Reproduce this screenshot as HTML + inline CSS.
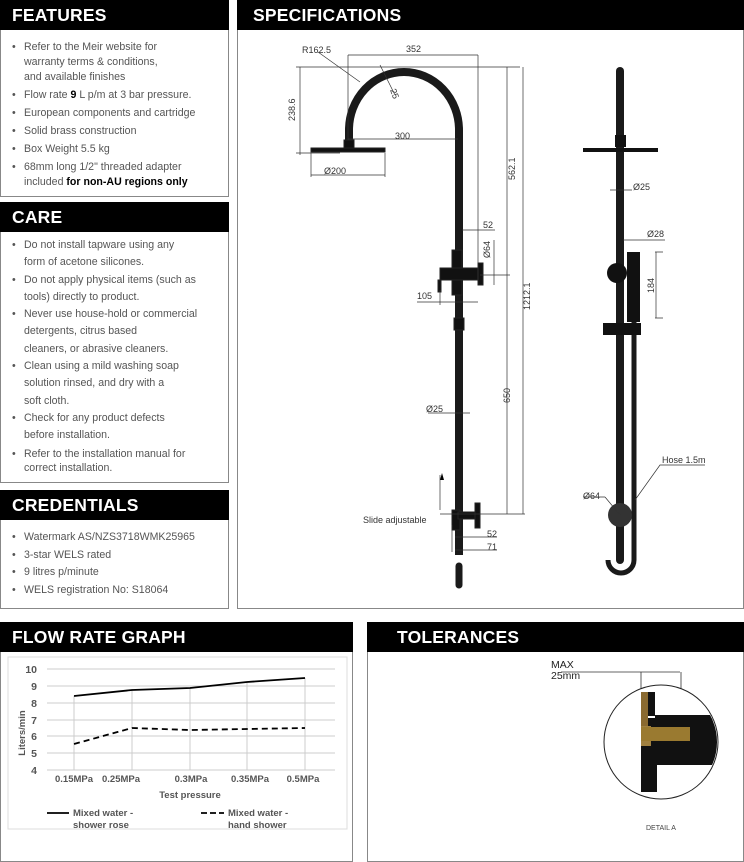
<!DOCTYPE html>
<html><head><meta charset="utf-8"><style>
*{margin:0;padding:0;box-sizing:border-box}
body{width:744px;height:856px;background:#fff;font-family:"Liberation Sans",sans-serif;position:relative;overflow:hidden;color:#555}
.box{position:absolute;border:1px solid #888}
.hd{position:absolute;background:#000;color:#fff;font-weight:900;font-size:17.5px;padding-left:12px;line-height:30px;letter-spacing:0.2px}
ul{list-style:none;position:absolute;font-size:10.6px}
li{position:relative;padding-left:12px}
li:before{content:"•";position:absolute;left:0;top:0}
b{color:#000}
</style></head><body>
<div class="box" style="left:0;top:0;width:229px;height:197px"></div>
<div class="hd" style="left:0;top:0;width:229px">FEATURES</div>
<ul style="left:12px;top:40px;width:215px;line-height:15px">
<li style="margin-bottom:3px">Refer to the Meir website for<br>warranty terms &amp; conditions,<br>and available finishes</li>
<li style="margin-bottom:3px">Flow rate <b>9</b> L p/m at 3 bar pressure.</li>
<li style="margin-bottom:3px">European components and cartridge</li>
<li style="margin-bottom:3px">Solid brass construction</li>
<li style="margin-bottom:3px">Box Weight 5.5 kg</li>
<li>68mm long 1/2" threaded adapter<br>included <b>for non-AU regions only</b></li>
</ul>
<div class="box" style="left:0;top:202px;width:229px;height:281px"></div>
<div class="hd" style="left:0;top:202px;width:229px">CARE</div>
<ul style="left:12px;top:237px;width:215px;line-height:17.3px">
<li>Do not install tapware using any<br>form of acetone silicones.</li>
<li>Do not apply physical items (such as<br>tools) directly to product.</li>
<li>Never use house-hold or commercial<br>detergents, citrus based<br>cleaners, or abrasive cleaners.</li>
<li>Clean using a mild washing soap<br>solution rinsed, and dry with a<br>soft cloth.</li>
<li>Check for any product defects<br>before installation.</li>
<li style="line-height:14px;margin-top:2px">Refer to the installation manual for<br>correct installation.</li>
</ul>
<div class="box" style="left:0;top:490px;width:229px;height:119px"></div>
<div class="hd" style="left:0;top:490px;width:229px">CREDENTIALS</div>
<ul style="left:12px;top:529px;width:215px;line-height:17.5px">
<li>Watermark AS/NZS3718WMK25965</li>
<li>3-star WELS rated</li>
<li>9 litres p/minute</li>
<li>WELS registration No: S18064</li>
</ul>

<div class="box" style="left:237px;top:0;width:507px;height:609px"></div>
<div class="hd" style="left:237px;top:0;width:507px;padding-left:16px">SPECIFICATIONS</div>

<div class="box" style="left:0;top:622px;width:353px;height:240px"></div>
<div class="hd" style="left:0;top:622px;width:353px">FLOW RATE GRAPH</div>
<div class="box" style="left:367px;top:622px;width:377px;height:240px"></div>
<div class="hd" style="left:367px;top:622px;width:377px;padding-left:30px">TOLERANCES</div>

<svg style="position:absolute;left:0;top:0" width="744" height="856" font-family="Liberation Sans, sans-serif">
<g fill="none" stroke="#222">
<path d="M349 148 V130 A55 58 0 0 1 459 130 V555" stroke-width="8" stroke="#1a1a1a"/>
<rect x="344" y="140" width="10" height="10" fill="#111"/>
<rect x="311" y="148" width="74" height="4" fill="#111"/>
<rect x="452" y="250" width="10" height="45" fill="#111"/>
<rect x="440" y="268" width="40" height="12" fill="#111"/>
<rect x="478" y="263" width="5" height="22" fill="#111"/>
<rect x="438" y="280" width="3" height="12" fill="#111"/>
<rect x="454" y="318" width="10" height="12" fill="#111"/>
<rect x="452" y="510" width="8" height="20" fill="#111"/>
<rect x="458" y="512" width="20" height="7" fill="#111"/>
<rect x="475" y="503" width="5" height="25" fill="#111"/>
<path d="M459 566 V585" stroke-width="7" stroke="#1a1a1a" stroke-linecap="round"/>
</g>
<g stroke="#333" stroke-width="0.7" fill="none">
<path d="M348 55 H478 M348 55 V140 M478 55 V280"/>
<path d="M300 67 V155 M296 67 H520 M296 153 H340"/>
<path d="M348 139 H458"/>
<path d="M311 153 V177 M385 153 V177 M311 175 H385"/>
<path d="M507 67 V514 M523 67 V514 M480 275 H510 M440 514 H525"/>
<path d="M462 230 H495"/>
<path d="M494 240 V285"/>
<path d="M417 302 H478 M440 290 V305"/>
<path d="M318 52 L360 82 M380 65 L395 95"/>
<path d="M428 413 H470"/>
<path d="M440 475 V510"/>
<path d="M455 537 H497 M455 550 H497 M452 525 V552"/>
</g>
<g font-size="9" fill="#333">
<text x="302" y="53">R162.5</text><text x="406" y="52">352</text>
<text x="395" y="139">300</text><text x="324" y="174">Ø200</text>
<text x="295" y="121" transform="rotate(-90 295 121)">238.6</text>
<text x="515" y="180" transform="rotate(-90 515 180)">562.1</text>
<text x="530" y="310" transform="rotate(-90 530 310)">1212.1</text>
<text x="510" y="403" transform="rotate(-90 510 403)">650</text>
<text x="390" y="90" transform="rotate(70 390 90)">25</text>
<text x="483" y="228">52</text><text x="417" y="299">105</text>
<text x="490" y="258" transform="rotate(-90 490 258)">Ø64</text>
<text x="426" y="412">Ø25</text><text x="487" y="537">52</text><text x="487" y="550">71</text>
<text x="363" y="523">Slide adjustable</text>
</g>
<path d="M442 473 L440 480 L444 480Z" fill="#000"/>
<g>
<path d="M620 71 V560" stroke="#1a1a1a" stroke-width="8" stroke-linecap="round"/>
<path d="M634 320 V560 A13 13 0 0 1 608 560" stroke="#1a1a1a" stroke-width="5" fill="none"/>
<rect x="583" y="148" width="75" height="4" fill="#111"/>
<rect x="615" y="135" width="11" height="12" fill="#111"/>
<rect x="627" y="252" width="13" height="70" fill="#111"/>
<circle cx="617" cy="273" r="10" fill="#111"/>
<rect x="603" y="323" width="38" height="12" fill="#111"/>
<circle cx="620" cy="515" r="12" fill="#333"/>
</g>
<g stroke="#333" stroke-width="0.7" fill="none">
<path d="M610 190 H632 M623 240 H665 M655 252 H663 M655 318 H663 M656 252 V318 M583 497 H605 M605 497 L620 515 M635 500 L660 465 H705"/>
</g>
<g font-size="9" fill="#333">
<text x="633" y="190">Ø25</text><text x="647" y="237">Ø28</text>
<text x="654" y="293" transform="rotate(-90 654 293)">184</text>
<text x="583" y="499">Ø64</text><text x="662" y="463">Hose 1.5m</text>
</g>

<rect x="8" y="657" width="339" height="172" fill="none" stroke="#ddd"/>
<g stroke="#ccc" stroke-width="1">
<path d="M47 669H335M47 686H335M47 703H335M47 720H335M47 736H335M47 753H335M47 770H335"/>
<path d="M74 696V770M132 690V770M190 688V770M247 682V770M305 678V770"/>
</g>
<polyline points="74,696 132,690 190,688 247,682 305,678" fill="none" stroke="#000" stroke-width="1.8"/>
<polyline points="74,744 132,728 190,730 247,729 305,728" fill="none" stroke="#000" stroke-width="1.8" stroke-dasharray="6,4"/>
<g font-size="10.5" fill="#555" font-weight="bold">
<text x="37" y="673" text-anchor="end">10</text><text x="37" y="690" text-anchor="end">9</text><text x="37" y="707" text-anchor="end">8</text><text x="37" y="724" text-anchor="end">7</text><text x="37" y="740" text-anchor="end">6</text><text x="37" y="757" text-anchor="end">5</text><text x="37" y="774" text-anchor="end">4</text>
<text x="74" y="782" text-anchor="middle" font-size="9.5">0.15MPa</text><text x="121" y="782" text-anchor="middle" font-size="9.5">0.25MPa</text><text x="191" y="782" text-anchor="middle" font-size="9.5">0.3MPa</text><text x="250" y="782" text-anchor="middle" font-size="9.5">0.35MPa</text><text x="303" y="782" text-anchor="middle" font-size="9.5">0.5MPa</text>
<text x="190" y="798" text-anchor="middle" font-size="9.5">Test pressure</text>
<text x="25" y="733" transform="rotate(-90 25 733)" text-anchor="middle" font-size="9.5">Liters/min</text>
<text x="73" y="816" font-size="9.5">Mixed water -</text><text x="73" y="828" font-size="9.5">shower rose</text>
<text x="228" y="816" font-size="9.5">Mixed water -</text><text x="228" y="828" font-size="9.5">hand shower</text>
</g>
<path d="M47 813H69" stroke="#000" stroke-width="1.8"/>
<path d="M201 813H224" stroke="#000" stroke-width="1.8" stroke-dasharray="6,3"/>

<g>
<text x="551" y="668" font-size="10.5" fill="#222">MAX</text>
<text x="551" y="679" font-size="10.5" fill="#222">25mm</text>
<path d="M561 672H680M641 672V720M681 672V720" stroke="#333" stroke-width="0.8"/>
<circle cx="661" cy="742" r="57" fill="#fff" stroke="#222"/>
<clipPath id="c"><circle cx="661" cy="742" r="56"/></clipPath>
<g clip-path="url(#c)">
<rect x="641" y="718" width="80" height="25" fill="#111"/>
<rect x="641" y="742" width="16" height="50" fill="#111"/>
<path d="M657 742 H720 V765 H657Z" fill="#111"/>
<rect x="641" y="726" width="10" height="20" fill="#a08040"/>
<rect x="641" y="727" width="49" height="14" fill="#9a7a30"/>
<rect x="641" y="692" width="7" height="34" fill="#8a6a30"/>
<rect x="648" y="692" width="7" height="24" fill="#111"/>
<rect x="655" y="715" width="60" height="5" fill="#111"/>
</g>
<text x="646" y="830" font-size="7" fill="#444">DETAIL A</text>
</g>
</svg>
</body></html>
